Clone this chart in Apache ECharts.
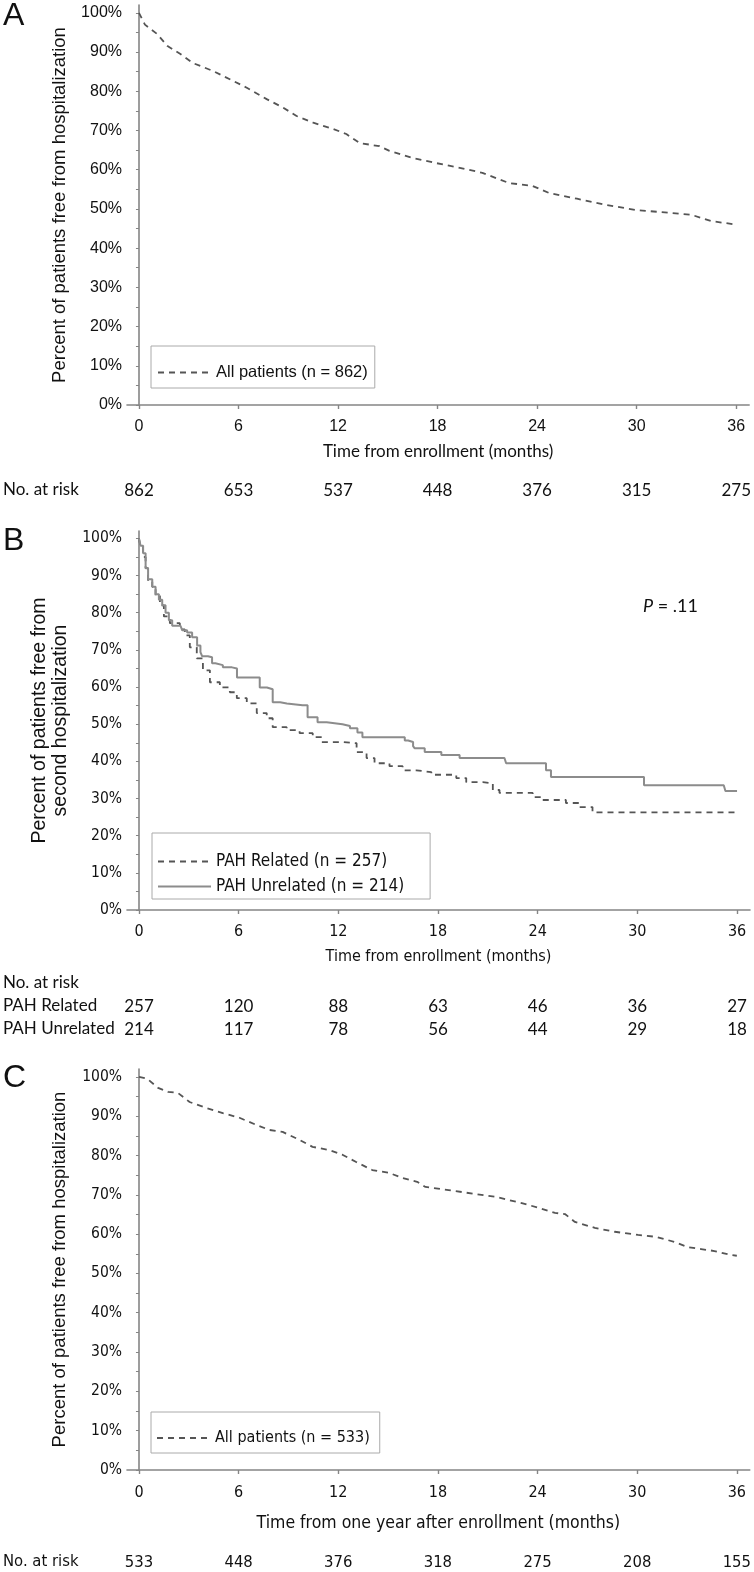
<!DOCTYPE html>
<html><head><meta charset="utf-8">
<script src="https://cdn.jsdelivr.net/npm/echarts@6/dist/echarts.min.js"></script>
<style>html,body{margin:0;padding:0;background:#fff}#c{width:754px;height:1572px}</style>
</head><body><div id="c"></div>
<script>
// ---------- data ----------
const monthTicks = [0, 6, 12, 18, 24, 30, 36];
const pctTicks = [0, 10, 20, 30, 40, 50, 60, 70, 80, 90, 100];
const pctMinorTicks = [0, 5, 10, 15, 20, 25, 30, 35, 40, 45, 50, 55, 60, 65, 70, 75, 80, 85, 90, 95, 100];

const aMonths = [0, 0.36, 1.1, 1.7, 2.5, 3.25, 4.45, 5.65, 6.5, 7.7, 8.7, 9.5, 10.5, 11.7, 12.5, 13.3, 14.5, 15.1, 16.5, 17.9, 19.1, 20.7, 22.3, 23.7, 24.7, 26.4, 28.2, 30, 32, 33.3, 34.5, 36];
const aSurvival = [100, 97, 94.6, 91.6, 89.5, 87.2, 85.2, 82.7, 80.9, 78, 75.8, 73.7, 72, 70.4, 69.1, 66.8, 66, 64.8, 63, 61.7, 60.7, 59.2, 56.6, 55.9, 54.1, 52.6, 51, 49.7, 49, 48.5, 46.9, 46];

const bRelatedMonths = [0, 0.1, 0.25, 0.4, 0.55, 0.8, 1.0, 1.26, 1.5, 1.86, 2.46, 2.76, 3.06, 3.48, 3.85, 4.27, 4.87, 5.47, 5.89, 6.49, 7.09, 7.69, 8.05, 8.89, 9.67, 10.46, 11, 12.26, 13.1, 13.7, 14.18, 15.08, 15.87, 16.7, 17.6, 19.1, 19.7, 20.7, 21.3, 21.7, 23.7, 24.3, 25.7, 26.5, 27.3, 36];
const bRelatedSurvival = [100, 97.5, 95, 92, 88.5, 87, 84.5, 82, 79, 77.2, 75.5, 73.9, 70.7, 67.7, 64.5, 61.3, 59.9, 58.6, 57, 55.6, 53, 51.6, 49.2, 48.4, 47.6, 46.5, 45.2, 44.9, 42.5, 40.9, 39.5, 38.7, 37.6, 37.1, 36.4, 35.5, 34.4, 34.1, 32.3, 31.5, 30.4, 29.6, 28.8, 27.7, 26.3, 26.3];

const bUnrelatedMonths = [0, 0.1, 0.25, 0.4, 0.55, 0.8, 1.0, 1.2, 1.4, 1.6, 1.8, 2.0, 2.5, 2.6, 2.9, 3.2, 3.5, 3.7, 3.8, 4.15, 4.4, 4.6, 5.05, 5.6, 5.9, 6.85, 7.27, 7.7, 8.05, 8.5, 8.9, 9.85, 10.15, 10.75, 11.3, 12.25, 12.7, 13.15, 13.45, 15.4, 16.0, 16.2, 16.5, 16.6, 17.2, 18.2, 19.3, 22.0, 22.1, 24.3, 24.5, 24.8, 29.9, 30.4, 35.2, 35.3, 36];
const bUnrelatedSurvival = [100, 98, 96, 92, 89, 87, 85, 83.5, 82, 80, 78, 76.5, 76.5, 75.3, 74.7, 73.4, 71.2, 69.4, 68.3, 68, 66.4, 65.9, 65.3, 65, 62.6, 62.6, 59.9, 59.4, 55.9, 55.6, 55.1, 55.1, 51.9, 50.5, 50, 49.5, 48.9, 47.8, 46.5, 46.5, 45.6, 45.2, 44.1, 43.5, 42.5, 41.7, 40.9, 40.9, 39.5, 39.5, 37.6, 35.8, 35.8, 33.6, 33.6, 32, 32];

const cMonths = [0, 0.5, 1.15, 1.75, 2.35, 3.05, 4.05, 5.05, 6.05, 7.05, 7.85, 8.65, 9.65, 10.45, 11.45, 12.25, 13.05, 14.05, 15.05, 15.85, 16.75, 17.25, 18.65, 20.25, 21.45, 22.25, 23.05, 24.05, 25.05, 25.65, 26.25, 27.45, 28.65, 30.05, 31.15, 32.25, 33.05, 33.85, 34.65, 35.65, 36];
const cSurvival = [100, 99.5, 97.2, 96.2, 95.9, 93.6, 92.1, 90.8, 89.6, 87.8, 86.5, 86, 84, 82.2, 81.4, 80.2, 78.4, 76.3, 75.6, 74.3, 73.3, 72, 71.2, 70.2, 69.5, 68.7, 67.9, 66.7, 65.4, 65.1, 63.1, 61.6, 60.6, 59.8, 59.3, 58, 56.7, 56.2, 55.7, 54.7, 54.5];

const riskA = [862, 653, 537, 448, 376, 315, 275];
const riskBRelated = [257, 120, 88, 63, 46, 36, 27];
const riskBUnrelated = [214, 117, 78, 56, 44, 29, 18];
const riskC = [533, 448, 376, 318, 275, 208, 155];

// ---------- helpers ----------
const zip = (xs, ys) => xs.map((x, i) => [x, ys[i]]);
const ARIAL = 'Liberation Sans, Arial, sans-serif';
const NARROW = 'DejaVu Sans Condensed, Liberation Sans, sans-serif';
const CAL = 'Lato, Carlito, Calibri, sans-serif';
const AXC = '#858585';
const TXT = '#111';
const XMIN = -0.72, XMAX = 36.78;

function mainX(gi, o) {
  return {
    gridIndex: gi, type: 'value', min: XMIN, max: XMAX, position: 'bottom',
    axisLine: { show: true, onZero: false, lineStyle: { color: AXC, width: 1.6 } },
    axisTick: { show: true, customValues: monthTicks, length: 4, lineStyle: { color: AXC, width: 1.4 } },
    axisLabel: { customValues: monthTicks, margin: o.labelMargin, verticalAlign: 'middle',
      fontFamily: o.tickFont, fontSize: o.tickSize, color: TXT },
    splitLine: { show: false },
    name: o.name, nameLocation: 'middle', nameGap: o.nameGap,
    nameTextStyle: { fontFamily: o.nameFont, fontSize: o.nameSize, color: TXT, verticalAlign: 'middle' }
  };
}
function riskX(gi, arr, margin, font, size) {
  return {
    gridIndex: gi, type: 'value', min: XMIN, max: XMAX, position: 'bottom',
    axisLine: { show: false }, axisTick: { show: false }, splitLine: { show: false },
    axisLabel: { customValues: monthTicks, margin: margin, verticalAlign: 'middle',
      formatter: v => String(arr[monthTicks.indexOf(v)]),
      fontFamily: font, fontSize: size, color: TXT }
  };
}
function mainY(gi, o) {
  return {
    gridIndex: gi, type: 'value', min: 0, max: 102,
    axisLine: { show: true, lineStyle: { color: AXC, width: 1.6 } },
    axisTick: { show: true, customValues: pctMinorTicks, length: 3, lineStyle: { color: AXC, width: 1 } },
    axisLabel: { customValues: pctTicks, formatter: '{value}%', margin: 5,
      fontFamily: o.tickFont, fontSize: o.tickSize, color: TXT },
    splitLine: { show: false },
    name: o.name, nameLocation: 'middle', nameRotate: 90, nameGap: o.nameGap,
    nameTextStyle: { fontFamily: ARIAL, fontSize: o.nameSize, color: TXT, verticalAlign: 'middle', lineHeight: o.lineHeight || o.nameSize + 2, align: 'center' }
  };
}
const dashed = { color: '#555', width: 1.8, type: [6, 5] };
const solid = { color: '#8c8c8c', width: 2, type: 'solid' };
const legendBase = { orient: 'vertical', itemWidth: 53, itemHeight: 14, borderColor: '#aaa', borderWidth: 1,
  itemStyle: { opacity: 0 } };

const option = {
  animation: false,
  backgroundColor: '#fff',
  grid: [
    { left: 127, top: 5, width: 623, height: 400 },
    { left: 127, top: 531, width: 623, height: 379 },
    { left: 127, top: 1069, width: 623, height: 401 }
  ],
  xAxis: [
    mainX(0, { labelMargin: 22, tickFont: ARIAL, tickSize: 16, name: 'Time from enrollment (months)', nameGap: 47, nameFont: CAL, nameSize: 17 }),
    riskX(0, riskA, 86, CAL, 17),
    mainX(1, { labelMargin: 22, tickFont: NARROW, tickSize: 16, name: 'Time from enrollment (months)', nameGap: 47, nameFont: NARROW, nameSize: 16 }),
    riskX(1, riskBRelated, 97, CAL, 17),
    riskX(1, riskBUnrelated, 120, CAL, 17),
    mainX(2, { labelMargin: 23, tickFont: NARROW, tickSize: 16, name: 'Time from one year after enrollment (months)', nameGap: 53, nameFont: NARROW, nameSize: 17.5 }),
    riskX(2, riskC, 93, NARROW, 16.5)
  ],
  yAxis: [
    mainY(0, { tickFont: ARIAL, tickSize: 16, name: 'Percent of patients free from hospitalization', nameGap: 65, nameSize: 18.5 }),
    mainY(1, { tickFont: NARROW, tickSize: 15.5, name: 'Percent of patients free from\nsecond hospitalization', nameGap: 73, nameSize: 19.5, lineHeight: 21 }),
    mainY(2, { tickFont: NARROW, tickSize: 15.5, name: 'Percent of patients free from hospitalization', nameGap: 67, nameSize: 18.5 })
  ],
  legend: [
    Object.assign({}, legendBase, { data: ['All patients (n = 862)'], left: 151, top: 346,
      padding: [18, 7, 7, 6], textStyle: { fontFamily: ARIAL, fontSize: 16.5, color: TXT } }),
    Object.assign({}, legendBase, { data: ['PAH Related (n = 257)', 'PAH Unrelated (n = 214)'], left: 152, top: 833,
      padding: [20, 26, 4, 5], itemGap: 8, textStyle: { fontFamily: NARROW, fontSize: 17, color: TXT } }),
    Object.assign({}, legendBase, { data: ['All patients (n = 533)'], left: 151, top: 1412,
      padding: [18, 10, 7, 5], textStyle: { fontFamily: NARROW, fontSize: 16, color: TXT } })
  ],
  series: [
    { name: 'All patients (n = 862)', type: 'line', xAxisIndex: 0, yAxisIndex: 0, data: zip(aMonths, aSurvival),
      symbol: 'none', lineStyle: dashed, itemStyle: { color: '#555' } },
    { name: 'PAH Related (n = 257)', type: 'line', step: 'end', xAxisIndex: 2, yAxisIndex: 1, data: zip(bRelatedMonths, bRelatedSurvival),
      symbol: 'none', lineStyle: dashed, itemStyle: { color: '#555' } },
    { name: 'PAH Unrelated (n = 214)', type: 'line', step: 'end', xAxisIndex: 2, yAxisIndex: 1, data: zip(bUnrelatedMonths, bUnrelatedSurvival),
      symbol: 'none', lineStyle: solid, itemStyle: { color: '#8c8c8c' } },
    { name: 'All patients (n = 533)', type: 'line', xAxisIndex: 5, yAxisIndex: 2, data: zip(cMonths, cSurvival),
      symbol: 'none', lineStyle: dashed, itemStyle: { color: '#555' } }
  ],
  graphic: [
    { type: 'text', left: 3, top: 0, style: { text: 'A', font: '32px ' + ARIAL, fill: TXT } },
    { type: 'text', left: 3, top: 525, style: { text: 'B', font: '32px ' + ARIAL, fill: TXT } },
    { type: 'text', left: 3, top: 1062, style: { text: 'C', font: '32px ' + ARIAL, fill: TXT } },
    { type: 'text', left: 3, top: 481, style: { text: 'No. at risk', font: '17px ' + CAL, fill: TXT } },
    { type: 'text', left: 3, top: 974, style: { text: 'No. at risk', font: '17px ' + CAL, fill: TXT } },
    { type: 'text', left: 3, top: 997, style: { text: 'PAH Related', font: '17px ' + CAL, fill: TXT } },
    { type: 'text', left: 3, top: 1020, style: { text: 'PAH Unrelated', font: '17px ' + CAL, fill: TXT } },
    { type: 'text', left: 3, top: 1553, style: { text: 'No. at risk', font: '16.5px ' + NARROW, fill: TXT } },
    { type: 'text', left: 643, top: 597, style: {
        text: '{i|P} = .11', fill: TXT, font: '18px ' + CAL,
        rich: { i: { fontStyle: 'italic', fontFamily: CAL, fontSize: 18, fill: TXT } } } }
  ]
};
const chart = echarts.init(document.getElementById('c'), null, { renderer: 'canvas' });
chart.setOption(option);
</script>
</body></html>
